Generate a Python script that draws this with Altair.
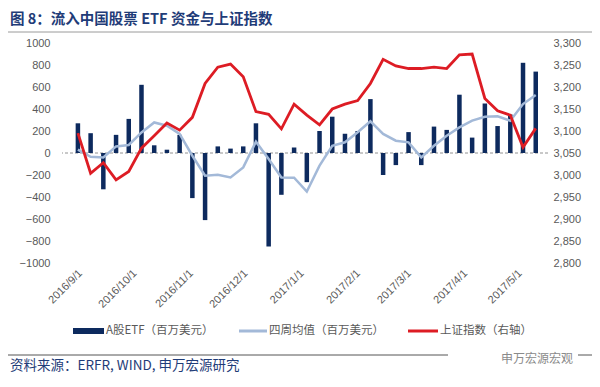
import altair as alt
import pandas as pd

# ---------------- data ----------------
dates = pd.date_range("2016-09-02", periods=37, freq="7D")
etf_flow = [270, 180, -330, 165, 310, 620, 70, 30, 165, -410, -610, 60, 40, 60, 270,
            -850, -380, 50, -265, 200, 330, 175, 200, 490, -200, -110, 190, -110, 240,
            210, 530, 140, 450, 245, 350, 820, 740]
avg4 = [30, -34, -40, 60, 73, 187, 278, 248, 173, -25, -206, -197, -222, -131, 103,
        -55, -222, -225, -350, -115, 66, 97, 188, 288, 173, 112, 97, -40, 66, 157,
        233, 294, 330, 333, 294, 445, 527]
sh_index = [3095, 3004, 3028, 2989, 3008, 3061, 3089, 3118, 3102, 3131, 3208, 3245,
            3252, 3223, 3144, 3138, 3105, 3161, 3136, 3114, 3150, 3161, 3169, 3208,
            3263, 3248, 3242, 3242, 3245, 3242, 3273, 3275, 3174, 3146, 3136, 3063, 3106]

title_text = "图 8：流入中国股票 ETF 资金与上证指数"
legend_labels = ["A股ETF（百万美元）", "四周均值（百万美元）", "上证指数（右轴）"]
source_text = "资料来源：ERFR, WIND, 申万宏源研究"
brand_text = "申万宏源宏观"

left_ticks = list(range(-1000, 1001, 200))
right_ticks = list(range(2800, 3301, 50))

NAVY = "#0d2a5e"
LIGHT = "#a3b9d8"
RED = "#dd1c24"
TXT = "#595959"
TITLE_BLUE = "#1f3c78"
CJK = "Noto Sans CJK SC"

df = pd.DataFrame({"date": dates, "etf": etf_flow, "avg": avg4, "idx": sh_index})

month_ticks = [alt.DateTime(year=2016, month=m, date=1) for m in (9, 10, 11, 12)] + \
              [alt.DateTime(year=2017, month=m, date=1) for m in (1, 2, 3, 4, 5)]

x_scale = alt.Scale(domain=[alt.DateTime(year=2016, month=8, date=27),
                            alt.DateTime(year=2017, month=5, date=16)])
x_axis = alt.Axis(values=month_ticks, format="%Y/%-m/%-d", labelAngle=-45,
                  labelColor=TXT, labelFontSize=11, labelFont="Liberation Sans",
                  title=None, domain=False, ticks=False, grid=False, labelPadding=4)

left_scale = alt.Scale(domain=[-1000, 1000], nice=False, zero=False)
right_scale = alt.Scale(domain=[2800, 3300], nice=False, zero=False)

left_axis = alt.Axis(values=left_ticks, format="d", title=None, domain=False, ticks=False,
                     grid=False, labelColor=TXT, labelFontSize=11,
                     labelFont="Liberation Sans", labelPadding=12)
right_axis = alt.Axis(values=right_ticks, format=",d", title=None, domain=False, ticks=False,
                      grid=False, labelColor=TXT, labelFontSize=11,
                      labelFont="Liberation Sans", labelPadding=5, orient="right")

base = alt.Chart(df).encode(x=alt.X("date:T", scale=x_scale, axis=x_axis))

zero_line = alt.Chart(df).mark_rule(color="#c8c8c8", strokeDash=[3, 2], strokeWidth=1).encode(
    y=alt.YDatum(0, scale=left_scale, axis=None)
)
bars = base.mark_bar(size=4.5, color=NAVY).encode(
    y=alt.Y("etf:Q", scale=left_scale, axis=left_axis)
)
blue_line = base.mark_line(color=LIGHT, strokeWidth=2.5).encode(
    y=alt.Y("avg:Q", scale=left_scale, axis=None)
)
red_line = base.mark_line(color=RED, strokeWidth=2.8).encode(
    y=alt.Y("idx:Q", scale=right_scale, axis=right_axis)
)


def label(text, x, y, size, color, weight="normal", align="left", font=CJK):
    return alt.Chart(pd.DataFrame({"t": [text]})).mark_text(
        align=align, baseline="middle", fontSize=size, color=color,
        fontWeight=weight, font=font
    ).encode(text="t:N", x=alt.value(x), y=alt.value(y))


def hrule(x1, x2, y, color, width, dash=None):
    kw = dict(color=color, strokeWidth=width)
    if dash:
        kw["strokeDash"] = dash
    return alt.Chart(pd.DataFrame({"a": [0]})).mark_rule(**kw).encode(
        x=alt.value(x1), x2=alt.value(x2), y=alt.value(y)
    )


title_mark = label(title_text, -52, -23, 14.5, TITLE_BLUE, weight="bold")
top_rule = hrule(-62, 538, -11, "#9a9a9a", 1)

leg_y = 288
leg1_sym = hrule(11, 42, leg_y, NAVY, 6)
leg1_txt = label(legend_labels[0], 44, leg_y, 11.5, TXT)
leg2_sym = hrule(177, 205, leg_y, LIGHT, 3)
leg2_txt = label(legend_labels[1], 207, leg_y, 11.5, TXT)
leg3_sym = hrule(346, 376, leg_y, RED, 3)
leg3_txt = label(legend_labels[2], 378, leg_y, 11.5, TXT)

bottom_rule1 = hrule(-62, 386, 312, "#555555", 1)
bottom_rule2 = hrule(516, 538, 312, "#555555", 1)
brand = label(brand_text, 475, 316, 12, "#8a8a8a", align="center")
source = label(source_text, -52, 323, 13.5, TITLE_BLUE)
border = hrule(-62, 538, 341, "#c8c8c8", 1, dash=[2, 2])

chart = alt.layer(
    zero_line, bars, blue_line, red_line,
    title_mark, top_rule,
    leg1_sym, leg1_txt, leg2_sym, leg2_txt, leg3_sym, leg3_txt,
    bottom_rule1, bottom_rule2, brand, source, border
).resolve_scale(
    y="independent"
).properties(
    width=486, height=220,
    autosize=alt.AutoSizeParams(type="none"),
    padding={"left": 54, "top": 35, "right": 44, "bottom": 116},
    background="white"
).configure_view(stroke=None)

chart.save("out.html", embed_options={"renderer": "svg", "actions": False})
